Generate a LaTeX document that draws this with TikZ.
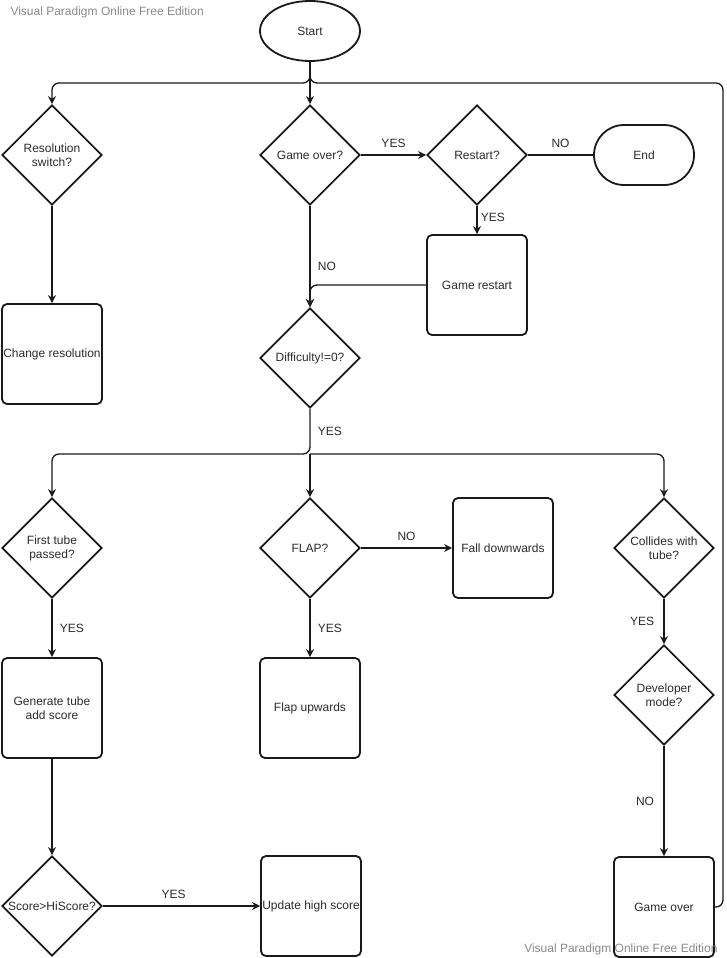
\documentclass[tikz,border=0pt]{standalone}
\usepackage{fontspec}
\setmainfont{Liberation Sans}
\usepackage{xcolor}
\usepackage{tikz}
\usetikzlibrary{arrows.meta,positioning,shapes.geometric}
\definecolor{flowdark}{HTML}{1A1A1A}
\definecolor{flowtext}{HTML}{2B2B2B}
\definecolor{flowgrey}{HTML}{8A8A8A}

\begin{document}
\begin{tikzpicture}[
        x=1pt,y=-1pt,
        every node/.style={font=\fontsize{12}{14}\selectfont,text=flowtext},
        terminal/.style={
            draw=flowdark,
            line width=1.8pt,
            minimum width=100pt,
            minimum height=60pt,
            inner sep=0pt,
            align=center
        },
        process/.style={
            draw=flowdark,
            line width=1.8pt,
            rounded corners=5pt,
            minimum width=100pt,
            minimum height=100pt,
            inner sep=0pt,
            align=center
        },
        decision/.style={
            diamond,
            draw=flowdark,
            line width=1.8pt,
            minimum width=100pt,
            minimum height=100pt,
            inner sep=0pt,
            align=center
        },
        flow/.style={->,>={Stealth[length=8pt,width=8pt]},line width=1.3pt,flowdark,rounded corners=7pt},
        plain/.style={line width=1.3pt,flowdark,rounded corners=7pt},
        note/.style={align=center},
        watermark/.style={text=flowgrey}
    ]
        \useasboundingbox (0,0) rectangle (727,958);

        \node[watermark,anchor=west] (wmtop) at (7,12) {Visual Paradigm Online Free Edition};

        % top row
        \node[terminal,ellipse] (start) at (310,31) {Start};
        \node[decision] (resq) at (52,155) {Resolution\\switch?};
        \node[process] (resch) at (52,354) {Change resolution};
        \node[decision] (overq) at (310,155) {Game over?};
        \node[decision] (restart) at (477,155) {Restart?};
        \node[terminal,rounded corners=30pt] (finish) at (644,155) {End};
        \node[process] (grestart) at (477,285) {Game restart};
        \node[decision] (diff) at (310,358) {Difficulty!=0?};

        % game loop
        \node[decision] (tubeq) at (52,548) {First tube\\passed?};
        \node[decision] (flap) at (310,548) {FLAP?};
        \node[process] (fall) at (503,548) {Fall downwards};
        \node[decision] (collide) at (664,548) {Collides with\\tube?};
        \node[process] (gen) at (52,708) {Generate tube\\add score};
        \node[process] (flapup) at (310,708) {Flap upwards};
        \node[decision] (devq) at (664,695) {Developer\\mode?};
        \node[decision] (scoreq) at (52,906) {Score>HiScore?};
        \node[process] (hiscore) at (311,906) {Update high score};
        \node[process] (gover) at (664,907) {Game over};

        \node[watermark,anchor=east] (wmbottom) at (721,949) {Visual Paradigm Online Free Edition};

        \coordinate (split) at (310,83);
        \coordinate (loopup) at (723,83);
        \coordinate (fork) at (310,454);

        \draw[flow] (start) -- (split) -| (resq);
        \draw[flow] (start) -- (overq);
        \draw[plain] (gover.east) -| (loopup) -- (split) -- (start);
        \draw[flow] (resq) -- (resch);
        \draw[flow] (overq) -- node[above=3pt,note]{YES} (restart);
        \draw[plain] (restart) -- node[above=3pt,note]{NO} (finish);
        \draw[flow] (restart) -- node[right,note,pos=0.4]{YES} (grestart);
        \draw[flow] (overq) -- node[right=4pt,note,pos=0.6]{NO} (diff);
        \draw[flow] (grestart.west) -| (diff);
        \draw[flow] (diff) -- node[right=4pt,note,pos=0.5]{YES} (fork) -| (tubeq);
        \draw[flow] (fork) -- (flap);
        \draw[flow] (fork) -| (collide);
        \draw[flow] (flap) -- node[above=3pt,note]{NO} (fall);
        \draw[flow] (flap) -- node[right=4pt,note]{YES} (flapup);
        \draw[flow] (tubeq) -- node[right=4pt,note]{YES} (gen);
        \draw[flow] (gen) -- (scoreq);
        \draw[flow] (scoreq) -- node[above=3pt,note,pos=0.45]{YES} (hiscore);
        \draw[flow] (collide) -- node[left=6pt,note]{YES} (devq);
        \draw[flow] (devq) -- node[left=6pt,note]{NO} (gover);
    \end{tikzpicture}
\end{document}
